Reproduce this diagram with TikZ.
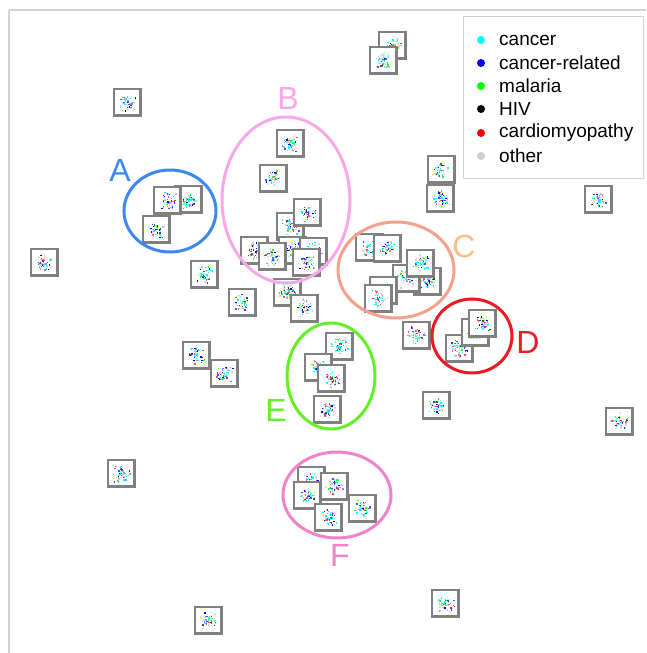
\documentclass[tikz,border=0pt]{standalone}
\usepackage{fontspec}
\setmainfont{Liberation Sans}
\usetikzlibrary{shapes.geometric}
\definecolor{boxgray}{RGB}{128,128,128}
\definecolor{axisgray}{RGB}{210,210,210}
\definecolor{cA}{RGB}{60,135,240}
\definecolor{cB}{RGB}{248,168,232}
\definecolor{cC}{RGB}{245,160,140}
\definecolor{cClab}{RGB}{250,190,130}
\definecolor{cD}{RGB}{240,25,35}
\definecolor{cE}{RGB}{100,240,40}
\definecolor{cF}{RGB}{240,130,200}
\definecolor{dcyan}{RGB}{0,255,255}
\definecolor{dblue}{RGB}{0,0,255}
\definecolor{dgreen}{RGB}{0,255,0}
\definecolor{dred}{RGB}{255,0,0}
\definecolor{dgray}{RGB}{205,205,205}
\tikzset{
  thumbbox/.style={draw=boxgray, line width=2.5pt, fill=white, minimum size=26.5pt, inner sep=0pt, shape=rectangle},
  grp/.style={ellipse, line width=3pt, inner sep=0pt},
  grplabel/.style={font=\fontsize{32}{32}\selectfont, inner sep=0pt},
  legdot/.style={circle, inner sep=0pt, minimum size=8pt},
  legtext/.style={anchor=west, font=\fontsize{19}{19}\selectfont, inner sep=0pt}
}
\newcommand\thumb[3]{%
  \node[thumbbox] (#1) at (#2,#3) {};
  \foreach \k in {1,...,48}{%
    \pgfmathsetmacro\dx{max(-11.5,min(10.5,4.6*(rand+rand)))}%
    \pgfmathsetmacro\dy{max(-11.5,min(10.5,4.6*(rand+rand)))}%
    \pgfmathrandominteger\cc{1}{13}%
    \ifcase\cc\or\def\col{dcyan}\or\def\col{dcyan}\or\def\col{dcyan!70}\or\def\col{dcyan!50}%
    \or\def\col{dblue}\or\def\col{dblue!70}\or\def\col{dblue!45}\or\def\col{dgray}%
    \or\def\col{dgray}\or\def\col{dgray!70}\or\def\col{dred!70}\or\def\col{dgreen!80}\or\def\col{black!70}\fi
    \fill[\col] (#2+\dx,#3+\dy) rectangle ++(1.4,1.4);
  }}
\begin{document}
\begin{tikzpicture}[x=1pt,y=-1pt]
\pgfmathsetseed{7}
\useasboundingbox (0,0) rectangle (646,653);
\fill[white] (0,0) rectangle (646,653);
% axes
\draw[axisgray, line width=1.2pt] (9,10) -- (646,10);
\draw[axisgray, line width=1.2pt] (9,10) -- (9,653);
% thumbnails
\thumb{t1}{127}{102}
\thumb{t2}{392}{45}
\thumb{t3}{383}{60}
\thumb{t4}{441}{169}
\thumb{t5}{440}{198}
\thumb{t6}{598}{199}
\thumb{t7}{44}{262}
\thumb{a1}{188}{199}
\thumb{a2}{167}{200}
\thumb{a3}{156}{229}
\thumb{t8}{204}{274}
\thumb{t9}{242}{302}
\thumb{b1}{290}{143}
\thumb{b2}{273}{178}
\thumb{b3}{290}{226}
\thumb{b4}{307}{212}
\thumb{b5}{254}{250}
\thumb{b6}{292}{250}
\thumb{b7}{272}{256}
\thumb{b8}{313}{251}
\thumb{b9}{306}{262}
\thumb{b10}{287}{292}
\thumb{b11}{304}{308}
\thumb{c1}{369}{247}
\thumb{c2}{387}{248}
\thumb{c3}{427}{281}
\thumb{c4}{406}{278}
\thumb{c5}{420}{263}
\thumb{c6}{383}{290}
\thumb{c7}{378}{298}
\thumb{d0}{416}{335}
\thumb{d1}{459}{348}
\thumb{d2}{475}{332}
\thumb{d3}{482}{323}
\thumb{e1}{339}{346}
\thumb{e2}{318}{367}
\thumb{e3}{331}{378}
\thumb{e4}{327}{409}
\thumb{t10}{436}{405}
\thumb{t11}{196}{355}
\thumb{t12}{224}{373}
\thumb{t13}{619}{421}
\thumb{t14}{121}{473}
\thumb{f1}{311}{480}
\thumb{f2}{334}{486}
\thumb{f3}{307}{495}
\thumb{f4}{362}{508}
\thumb{f5}{328}{517}
\thumb{t15}{208}{620}
\thumb{t16}{445}{603}
% group ellipses
\node[grp, draw=cA, minimum width=92pt, minimum height=82pt] (gA) at (170,211) {};
\node[grp, draw=cB, minimum width=128pt, minimum height=166pt] (gB) at (286,200) {};
\node[grp, draw=cC, minimum width=116pt, minimum height=96pt] (gC) at (396,270) {};
\node[grp, draw=cD, minimum width=80pt, minimum height=74pt] (gD) at (472,336) {};
\node[grp, draw=cE, minimum width=88pt, minimum height=106pt] (gE) at (331,376) {};
\node[grp, draw=cF, minimum width=108pt, minimum height=86pt] (gF) at (337,495) {};
% group labels
\node[grplabel, text=cA] (lA) at (120,170) {A};
\node[grplabel, text=cB] (lB) at (288,98) {B};
\node[grplabel, text=cClab] (lC) at (464,246) {C};
\node[grplabel, text=cD] (lD) at (528,342) {D};
\node[grplabel, text=cE] (lE) at (276,410) {E};
\node[grplabel, text=cF] (lF) at (340,555) {F};
% legend
\node[draw=axisgray, line width=1pt, fill=white, minimum width=180pt, minimum height=162pt, inner sep=0pt] (leg) at (553,97) {};
\node[legdot, fill=dcyan] (k1) at (481,40) {};
\node[legtext] (l1) at (499,40) {cancer};
\node[legdot, fill=dblue] (k2) at (481,63) {};
\node[legtext] (l2) at (499,63) {cancer-related};
\node[legdot, fill=dgreen] (k3) at (481,86) {};
\node[legtext] (l3) at (499,86) {malaria};
\node[legdot, fill=black] (k4) at (481,109) {};
\node[legtext] (l4) at (499,109) {HIV};
\node[legdot, fill=dred] (k5) at (481,133) {};
\node[legtext] (l5) at (499,133) {cardiomyopathy};
\node[legdot, fill=dgray] (k6) at (481,156) {};
\node[legtext] (l6) at (499,156) {other};
\end{tikzpicture}
\end{document}
